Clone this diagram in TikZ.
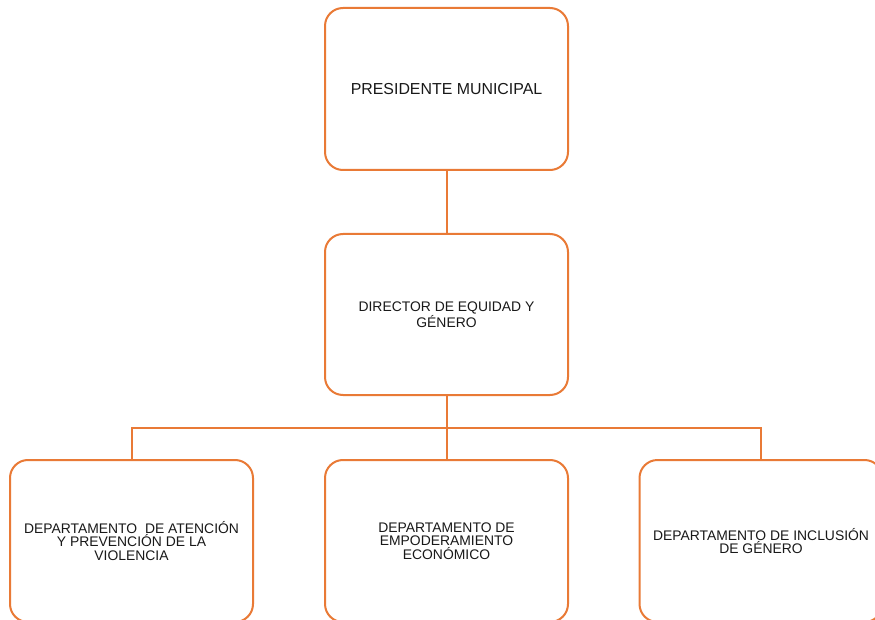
\documentclass[tikz,border=0pt]{standalone}
\usepackage{fontspec}
\setmainfont{Liberation Sans}
\definecolor{boxorange}{HTML}{E97A36}
\begin{document}
\begin{tikzpicture}[x=1pt,y=-1pt,
  orgbox/.style={draw=boxorange, line width=2pt, rounded corners=18pt, fill=white,
    minimum width=243pt, minimum height=162pt, inner sep=0pt, align=center,
    font=\fontsize{13.9}{13.6}\selectfont, text=black!90},
  link/.style={draw=boxorange, line width=2pt}]
\useasboundingbox (0,0) rectangle (875,620);
\node[orgbox, font=\fontsize{15.9}{16}\selectfont] (pres) at (446.5,89) {PRESIDENTE MUNICIPAL};
\node[orgbox, minimum height=161pt, font=\fontsize{13.9}{12.8}\selectfont] (dir) at (446.5,314.5) {DIRECTOR DE EQUIDAD Y\\GÉNERO};
\node[orgbox] (d1) at (131.5,541) {DEPARTAMENTO\ \ DE ATENCIÓN\\Y PREVENCIÓN DE LA\\VIOLENCIA};
\node[orgbox] (d2) at (446.5,541) {DEPARTAMENTO DE\\EMPODERAMIENTO\\ECONÓMICO};
\node[orgbox] (d3) at (761,541) {DEPARTAMENTO DE INCLUSIÓN\\DE GÉNERO};
\coordinate (bar) at (446.5,428);
\draw[link] (pres.south) -- (dir.north);
\draw[link] (dir.south) -- (d2.north);
\draw[link] (d1.north) |- (bar) -| (d3.north);
\end{tikzpicture}
\end{document}
